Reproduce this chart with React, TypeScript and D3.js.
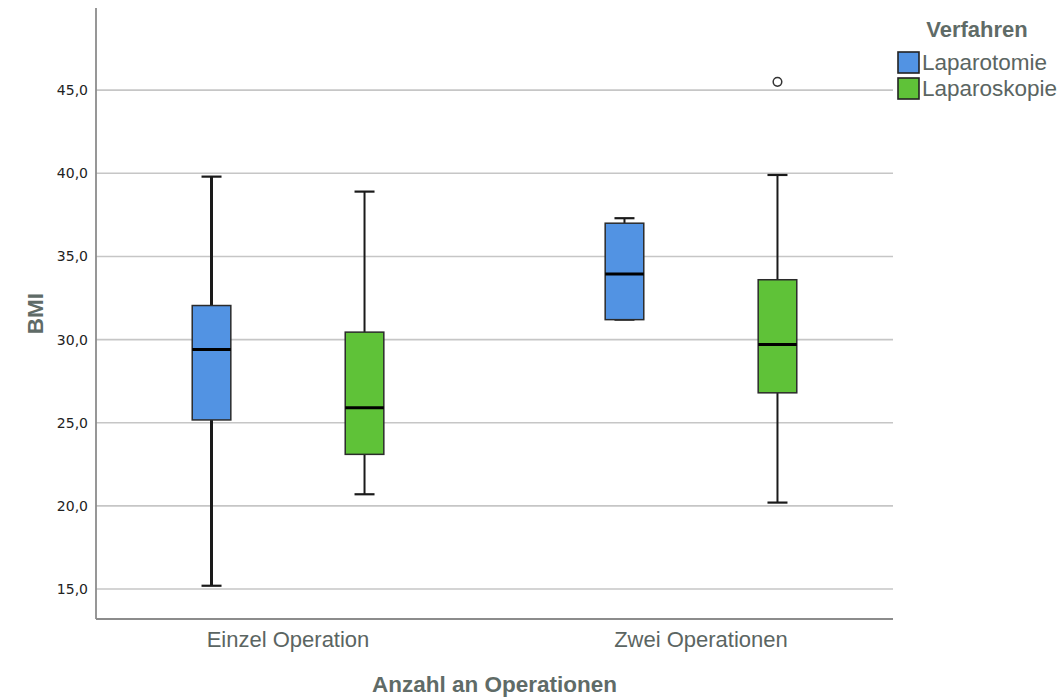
import React from "react";
import * as d3 from "d3";

// Gruppen und Verfahren
const categories = ["Einzel Operation", "Zwei Operationen"];
const series = ["Laparotomie", "Laparoskopie"];
const seriesColors = ["#5293e3", "#5fc238"];

// Boxplot-Kennwerte (BMI) je Gruppe, Reihenfolge wie series
const whiskerLow = [
  [15.2, 20.7],
  [31.2, 20.2],
];
const quartile1 = [
  [25.17, 23.1],
  [31.2, 26.8],
];
const medians = [
  [29.4, 25.9],
  [33.95, 29.7],
];
const quartile3 = [
  [32.05, 30.45],
  [37.0, 33.6],
];
const whiskerHigh = [
  [39.8, 38.9],
  [37.3, 39.9],
];
// Ausreißer: [Gruppe, Verfahren, Wert]
const outliers: [number, number, number][] = [[1, 1, 45.5]];

const yTicks = [15, 20, 25, 30, 35, 40, 45];

const W = 1064;
const H = 697;
const plot = { left: 96, right: 893, top: 8, bottom: 619 };

export default function App() {
  const y = d3.scaleLinear().domain([13.2, 49.94]).range([plot.bottom, plot.top]);
  const x = d3
    .scalePoint<string>()
    .domain(categories)
    .range([plot.left, plot.right])
    .padding(0.465);
  const sub = d3.scalePoint<string>().domain(series).range([-76.5, 76.5]);
  const boxW = 38.6;
  const capW = 20;
  const fmt = (v: number) => v.toFixed(1).replace(".", ",");
  const textGrey = "#5b6562";
  const titleGrey = "#5f6b67";

  return (
    <svg
      width={W}
      height={H}
      style={{ position: "absolute", left: 0, top: 0, background: "#fff" }}
    >
      {/* Gitterlinien */}
      {yTicks.map((t) => (
        <line
          key={"g" + t}
          x1={plot.left}
          x2={plot.right}
          y1={y(t)}
          y2={y(t)}
          stroke="#c6c6c6"
          strokeWidth={1.6}
        />
      ))}
      {/* Achsen */}
      <line
        x1={plot.left}
        x2={plot.left}
        y1={plot.top}
        y2={plot.bottom}
        stroke="#8c8c8c"
        strokeWidth={1.8}
      />
      <line
        x1={plot.left}
        x2={plot.right}
        y1={plot.bottom}
        y2={plot.bottom}
        stroke="#8c8c8c"
        strokeWidth={1.8}
      />
      {/* Y-Beschriftungen */}
      {yTicks.map((t) => (
        <text
          key={"t" + t}
          x={88}
          y={y(t) + 5}
          textAnchor="end"
          fontFamily="DejaVu Sans, sans-serif"
          fontSize={14}
          fill="#222"
        >
          {fmt(t)}
        </text>
      ))}
      {/* Kategorien */}
      {categories.map((c) => (
        <text
          key={c}
          x={x(c)}
          y={647}
          textAnchor="middle"
          fontFamily="Liberation Sans, Arial, sans-serif"
          fontSize={22}
          fill={textGrey}
        >
          {c}
        </text>
      ))}
      {/* Achsentitel */}
      <text
        x={(plot.left + plot.right) / 2}
        y={692}
        textAnchor="middle"
        fontFamily="Liberation Sans, Arial, sans-serif"
        fontWeight="bold"
        fontSize={22.5}
        fill={titleGrey}
      >
        Anzahl an Operationen
      </text>
      <text
        transform={`translate(43, ${(plot.top + plot.bottom) / 2}) rotate(-90)`}
        textAnchor="middle"
        fontFamily="Liberation Sans, Arial, sans-serif"
        fontWeight="bold"
        fontSize={22.5}
        fill={titleGrey}
      >
        BMI
      </text>

      {/* Boxplots */}
      {categories.map((c, ci) =>
        series.map((s, si) => {
          const cx = (x(c) as number) + (sub(s) as number);
          const thick = ci === 0 && si === 0 ? 3 : 2;
          return (
            <g key={c + s}>
              <line
                x1={cx}
                x2={cx}
                y1={y(whiskerHigh[ci][si])}
                y2={y(quartile3[ci][si])}
                stroke="#1a1a1a"
                strokeWidth={thick}
              />
              <line
                x1={cx}
                x2={cx}
                y1={y(quartile1[ci][si])}
                y2={y(whiskerLow[ci][si])}
                stroke="#1a1a1a"
                strokeWidth={thick}
              />
              <line
                x1={cx - capW / 2}
                x2={cx + capW / 2}
                y1={y(whiskerHigh[ci][si])}
                y2={y(whiskerHigh[ci][si])}
                stroke="#1a1a1a"
                strokeWidth={2.2}
              />
              <line
                x1={cx - capW / 2}
                x2={cx + capW / 2}
                y1={y(whiskerLow[ci][si])}
                y2={y(whiskerLow[ci][si])}
                stroke="#1a1a1a"
                strokeWidth={2.2}
              />
              <rect
                x={cx - boxW / 2}
                y={y(quartile3[ci][si])}
                width={boxW}
                height={y(quartile1[ci][si]) - y(quartile3[ci][si])}
                fill={seriesColors[si]}
                stroke="#2b2b2b"
                strokeWidth={1.5}
              />
              <line
                x1={cx - boxW / 2}
                x2={cx + boxW / 2}
                y1={y(medians[ci][si])}
                y2={y(medians[ci][si])}
                stroke="#000"
                strokeWidth={3}
              />
            </g>
          );
        })
      )}
      {outliers.map(([ci, si, v], i) => (
        <circle
          key={"o" + i}
          cx={(x(categories[ci]) as number) + (sub(series[si]) as number)}
          cy={y(v)}
          r={4.3}
          fill="#fff"
          stroke="#333"
          strokeWidth={1.5}
        />
      ))}

      {/* Legende */}
      <text
        x={977}
        y={37}
        textAnchor="middle"
        fontFamily="Liberation Sans, Arial, sans-serif"
        fontWeight="bold"
        fontSize={22}
        fill={titleGrey}
      >
        Verfahren
      </text>
      {series.map((s, si) => (
        <g key={"l" + s} transform={`translate(898, ${52 + si * 26})`}>
          <rect
            x={0}
            y={0}
            width={21}
            height={21}
            fill={seriesColors[si]}
            stroke="#222"
            strokeWidth={1.6}
          />
          <text
            x={24}
            y={18}
            fontFamily="Liberation Sans, Arial, sans-serif"
            fontSize={22.5}
            fill={textGrey}
          >
            {s}
          </text>
        </g>
      ))}
    </svg>
  );
}
